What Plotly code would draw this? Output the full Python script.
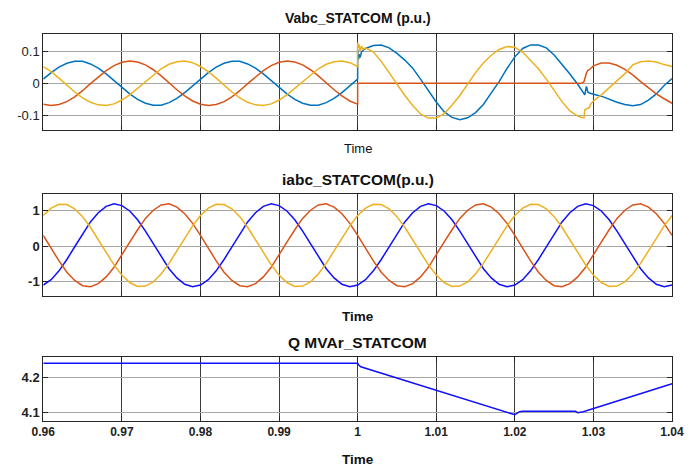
import plotly.graph_objects as go

# ---------------- data ----------------
x_ticks = [0.96, 0.97, 0.98, 0.99, 1.00, 1.01, 1.02, 1.03, 1.04]
x_labels = ["0.96", "0.97", "0.98", "0.99", "1", "1.01", "1.02", "1.03", "1.04"]

# Vabc_STATCOM (p.u.)
t_v = [
    0.960, 0.961, 0.962, 0.963, 0.964, 0.965, 0.966, 0.967, 0.968, 0.969,
    0.970, 0.971, 0.972, 0.973, 0.974, 0.975, 0.976, 0.977, 0.978, 0.979,
    0.980, 0.981, 0.982, 0.983, 0.984, 0.985, 0.986, 0.987, 0.988, 0.989,
    0.990, 0.991, 0.992, 0.993, 0.994, 0.995, 0.996, 0.997, 0.998, 0.999,
    1.000, 1.000, 1.0001, 1.0002, 1.0003, 1.0005, 1.0007,
    1.001, 1.002, 1.003, 1.004, 1.005, 1.006, 1.007, 1.008, 1.009, 1.010,
    1.011, 1.012, 1.013, 1.014, 1.015, 1.016, 1.017, 1.018, 1.019, 1.020,
    1.021, 1.022, 1.023, 1.024, 1.025, 1.026, 1.027, 1.028,
    1.0285, 1.0288, 1.0289, 1.0291, 1.0293, 1.0295, 1.0296,
    1.030, 1.031, 1.032, 1.033, 1.034, 1.035, 1.036, 1.037, 1.038, 1.039, 1.040,
]
va = [
    0.013, 0.033, 0.050, 0.062, 0.068, 0.068, 0.060, 0.047, 0.029, 0.009,
    -0.013, -0.033, -0.050, -0.062, -0.068, -0.068, -0.060, -0.047, -0.029, -0.009,
    0.013, 0.033, 0.050, 0.062, 0.068, 0.068, 0.060, 0.047, 0.029, 0.009,
    -0.013, -0.033, -0.050, -0.062, -0.068, -0.068, -0.060, -0.047, -0.029, -0.009,
    0.013, 0.105, 0.074, 0.090, 0.080, 0.098, 0.102,
    0.108, 0.117, 0.119, 0.110, 0.093, 0.072, 0.047, 0.013, -0.022, -0.058,
    -0.088, -0.106, -0.113, -0.107, -0.091, -0.066, -0.030, 0.005, 0.046, 0.082,
    0.108, 0.119, 0.119, 0.110, 0.088, 0.060, 0.029, -0.003,
    -0.020, -0.030, -0.036, -0.010, -0.028, -0.030, -0.031,
    -0.034, -0.040, -0.050, -0.059, -0.066, -0.070, -0.066, -0.052, -0.033, -0.007, 0.015,
]
vb = [
    -0.065, -0.069, -0.066, -0.057, -0.042, -0.023, -0.001, 0.020, 0.039, 0.055,
    0.065, 0.069, 0.066, 0.057, 0.042, 0.023, 0.001, -0.020, -0.039, -0.055,
    -0.065, -0.069, -0.066, -0.057, -0.042, -0.023, -0.001, 0.020, 0.039, 0.055,
    0.065, 0.069, 0.066, 0.057, 0.042, 0.023, 0.001, -0.020, -0.039, -0.055,
    -0.065, 0.0, 0.0, 0.0, 0.0, 0.0, 0.0,
    0.0, 0.0, 0.0, 0.0, 0.0, 0.0, 0.0, 0.0, 0.0, 0.0,
    0.0, 0.0, 0.0, 0.0, 0.0, 0.0, 0.0, 0.0, 0.0, 0.0,
    0.0, 0.0, 0.0, 0.0, 0.0, 0.0, 0.0, 0.0,
    0.0, 0.005, 0.015, 0.032, 0.040, 0.043, 0.045,
    0.054, 0.063, 0.063, 0.056, 0.043, 0.026, 0.005, -0.015, -0.033, -0.048, -0.062,
]
vc = [
    0.052, 0.036, 0.016, -0.006, -0.027, -0.045, -0.059, -0.067, -0.069, -0.064,
    -0.052, -0.036, -0.016, 0.006, 0.027, 0.045, 0.059, 0.067, 0.069, 0.064,
    0.052, 0.036, 0.016, -0.006, -0.027, -0.045, -0.059, -0.067, -0.069, -0.064,
    -0.052, -0.036, -0.016, 0.006, 0.027, 0.045, 0.059, 0.067, 0.069, 0.064,
    0.052, 0.126, 0.110, 0.120, 0.100, 0.115, 0.105,
    0.110, 0.097, 0.068, 0.033, -0.003, -0.038, -0.069, -0.095, -0.108, -0.108,
    -0.094, -0.068, -0.038, -0.003, 0.033, 0.063, 0.087, 0.105, 0.114, 0.112,
    0.096, 0.071, 0.045, 0.013, -0.024, -0.057, -0.086, -0.102,
    -0.106, -0.107, -0.082, -0.080, -0.078, -0.075, -0.066,
    -0.055, -0.036, -0.015, 0.008, 0.030, 0.057, 0.067, 0.069, 0.066, 0.058, 0.052,
]

# iabc_STATCOM (p.u.)
t_i = [
    0.960, 0.961, 0.962, 0.963, 0.964, 0.965, 0.966, 0.967, 0.968, 0.969,
    0.970, 0.971, 0.972, 0.973, 0.974, 0.975, 0.976, 0.977, 0.978, 0.979,
    0.980, 0.981, 0.982, 0.983, 0.984, 0.985, 0.986, 0.987, 0.988, 0.989,
    0.990, 0.991, 0.992, 0.993, 0.994, 0.995, 0.996, 0.997, 0.998, 0.999,
    1.000, 1.001, 1.002, 1.003, 1.004, 1.005, 1.006, 1.007, 1.008, 1.009,
    1.010, 1.011, 1.012, 1.013, 1.014, 1.015, 1.016, 1.017, 1.018, 1.019,
    1.020, 1.021, 1.022, 1.023, 1.024, 1.025, 1.026, 1.027, 1.028, 1.029,
    1.030, 1.031, 1.032, 1.033, 1.034, 1.035, 1.036, 1.037, 1.038, 1.039,
    1.040,
]
ia = [
    -1.10, -0.95, -0.70, -0.38, -0.02, 0.35, 0.68, 0.94, 1.12, 1.19,
    1.14, 0.99, 0.74, 0.42, 0.06, -0.31, -0.64, -0.90, -1.08, -1.15,
    -1.10, -0.95, -0.70, -0.38, -0.02, 0.35, 0.68, 0.94, 1.12, 1.19,
    1.14, 0.99, 0.74, 0.42, 0.06, -0.31, -0.64, -0.90, -1.08, -1.15,
    -1.10, -0.95, -0.70, -0.38, -0.02, 0.35, 0.68, 0.94, 1.12, 1.19,
    1.14, 0.99, 0.74, 0.42, 0.06, -0.31, -0.64, -0.90, -1.08, -1.15,
    -1.10, -0.95, -0.70, -0.38, -0.02, 0.35, 0.68, 0.94, 1.12, 1.19,
    1.14, 0.99, 0.74, 0.42, 0.06, -0.31, -0.64, -0.90, -1.08, -1.15,
    -1.10,
]
ib = [
    0.30, -0.07, -0.42, -0.74, -0.97, -1.12, -1.15, -1.06, -0.87, -0.60,
    -0.26, 0.11, 0.46, 0.78, 1.01, 1.16, 1.19, 1.10, 0.91, 0.64,
    0.30, -0.07, -0.42, -0.74, -0.97, -1.12, -1.15, -1.06, -0.87, -0.60,
    -0.26, 0.11, 0.46, 0.78, 1.01, 1.16, 1.19, 1.10, 0.91, 0.64,
    0.30, -0.07, -0.42, -0.74, -0.97, -1.12, -1.15, -1.06, -0.87, -0.60,
    -0.26, 0.11, 0.46, 0.78, 1.01, 1.16, 1.19, 1.10, 0.91, 0.64,
    0.30, -0.07, -0.42, -0.74, -0.97, -1.12, -1.15, -1.06, -0.87, -0.60,
    -0.26, 0.11, 0.46, 0.78, 1.01, 1.16, 1.19, 1.10, 0.91, 0.64,
    0.30,
]
ic = [
    0.86, 1.07, 1.18, 1.17, 1.05, 0.83, 0.53, 0.18, -0.19, -0.53,
    -0.82, -1.03, -1.14, -1.13, -1.01, -0.79, -0.49, -0.14, 0.23, 0.57,
    0.86, 1.07, 1.18, 1.17, 1.05, 0.83, 0.53, 0.18, -0.19, -0.53,
    -0.82, -1.03, -1.14, -1.13, -1.01, -0.79, -0.49, -0.14, 0.23, 0.57,
    0.86, 1.07, 1.18, 1.17, 1.05, 0.83, 0.53, 0.18, -0.19, -0.53,
    -0.82, -1.03, -1.14, -1.13, -1.01, -0.79, -0.49, -0.14, 0.23, 0.57,
    0.86, 1.07, 1.18, 1.17, 1.05, 0.83, 0.53, 0.18, -0.19, -0.53,
    -0.82, -1.03, -1.14, -1.13, -1.01, -0.79, -0.49, -0.14, 0.23, 0.57,
    0.86,
]

# Q MVAr_STATCOM
t_q = [0.960, 1.000, 1.0001, 1.0004, 1.0197, 1.0200, 1.0203, 1.0206, 1.0210,
       1.0277, 1.0280, 1.0283, 1.0287, 1.040]
q = [4.240, 4.240, 4.236, 4.230, 4.094, 4.092, 4.097, 4.101, 4.102,
     4.102, 4.098, 4.099, 4.101, 4.181]

assert len(t_v) == len(va) == len(vb) == len(vc)
assert len(t_i) == len(ia) == len(ib) == len(ic)
assert len(t_q) == len(q)

# ---------------- figure ----------------
FONT = "Liberation Sans, Arial, Helvetica, sans-serif"
C_BLUE = "#0072BD"
C_ORANGE = "#D95319"
C_YELLOW = "#EDB120"
C_PUREBLUE = "#1010FF"

fig = go.Figure()
LW = 1.5

fig.add_trace(go.Scatter(x=t_v, y=va, mode="lines", line=dict(color=C_BLUE, width=LW), xaxis="x", yaxis="y"))
fig.add_trace(go.Scatter(x=t_v, y=vb, mode="lines", line=dict(color=C_ORANGE, width=LW), xaxis="x", yaxis="y"))
fig.add_trace(go.Scatter(x=t_v, y=vc, mode="lines", line=dict(color=C_YELLOW, width=LW), xaxis="x", yaxis="y"))

fig.add_trace(go.Scatter(x=t_i, y=ia, mode="lines", line=dict(color=C_PUREBLUE, width=LW), xaxis="x2", yaxis="y2"))
fig.add_trace(go.Scatter(x=t_i, y=ib, mode="lines", line=dict(color=C_ORANGE, width=LW), xaxis="x2", yaxis="y2"))
fig.add_trace(go.Scatter(x=t_i, y=ic, mode="lines", line=dict(color=C_YELLOW, width=LW), xaxis="x2", yaxis="y2"))

fig.add_trace(go.Scatter(x=t_q, y=q, mode="lines", line=dict(color=C_PUREBLUE, width=LW), xaxis="x3", yaxis="y3"))

XDOM = [0.062, 0.9628]


def xax(anchor, show_labels):
    return dict(
        domain=XDOM, anchor=anchor, range=[0.96, 1.04], automargin=False,
        tickvals=x_ticks, ticktext=x_labels, showticklabels=show_labels,
        tickfont=dict(family=FONT, size=12, color="#222222", weight="bold"),
        showgrid=True, gridcolor="#3c3c3c", gridwidth=1,
        showline=True, linecolor="#262626", linewidth=1, mirror="ticks",
        ticks="inside", ticklen=5, tickcolor="#262626", zeroline=False,
    )


def yax(anchor, dom, rng, vals, texts, bold):
    return dict(
        domain=dom, anchor=anchor, range=rng, automargin=False,
        tickvals=vals, ticktext=texts,
        tickfont=dict(family=FONT, size=13, color="#222222", weight="bold" if bold else "normal"),
        showgrid=True, gridcolor="#a6a6a6", gridwidth=1,
        showline=True, linecolor="#262626", linewidth=1, mirror="ticks",
        ticks="inside", ticklen=5, tickcolor="#262626", zeroline=False,
    )


H = 466.0


def py(px):
    return 1 - px / H


fig.update_layout(
    width=698, height=466, autosize=False,
    margin=dict(l=0, r=0, t=0, b=0, pad=0),
    paper_bgcolor="white", plot_bgcolor="white",
    showlegend=False,
    xaxis=xax("y", False),
    yaxis=yax("x", [py(130), py(34.3)], [-0.145, 0.152], [-0.1, 0, 0.1], ["-0.1", "0", "0.1"], False),
    xaxis2=xax("y2", False),
    yaxis2=yax("x2", [py(296), py(194.3)], [-1.41, 1.46], [-1, 0, 1], ["-1", "0", "1"], True),
    xaxis3=xax("y3", True),
    yaxis3=yax("x3", [py(420.7), py(356.7)], [4.075, 4.259], [4.1, 4.2], ["4.1", "4.2"], True),
)

XC = (XDOM[0] + XDOM[1]) / 2
annots = [
    ("Vabc_STATCOM (p.u.)", 17.5, 14, "bold"),
    ("iabc_STATCOM(p.u.)", 179, 15.5, "bold"),
    ("Q MVAr_STATCOM", 342.5, 15.5, "bold"),
    ("Time", 148.5, 13, "normal"),
    ("Time", 316, 13.5, "bold"),
    ("Time", 459, 13.5, "bold"),
]
for text, ypx, size, weight in annots:
    fig.add_annotation(
        text=text, xref="paper", yref="paper", x=XC, y=py(ypx),
        xanchor="center", yanchor="middle", showarrow=False,
        font=dict(family=FONT, size=size, color="#111111", weight=weight),
    )

fig.write_html(
    "out.html",
    config={"displayModeBar": False},
    post_script="document.body.style.margin='0';document.body.style.padding='0';"
                "document.documentElement.style.overflow='hidden';",
)
